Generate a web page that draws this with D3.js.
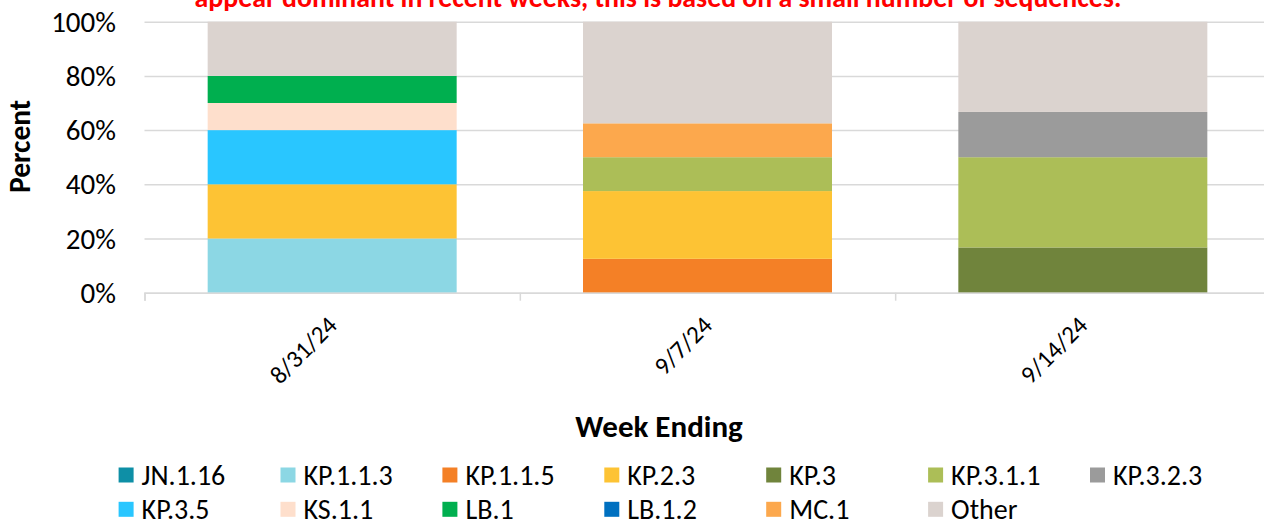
<!DOCTYPE html>
<html>
<head>
<meta charset="utf-8">
<script src="https://cdn.jsdelivr.net/npm/d3@7"></script>
<style>
  html, body { margin: 0; padding: 0; background: #ffffff; }
  svg { display: block; }
  text { font-family: Calibri, Carlito, "Open Sans", "DejaVu Sans", sans-serif; fill: #000; }
</style>
</head>
<body>
<svg id="chart" width="1264" height="522"></svg>
<script>
// Weeks shown on the x axis
const weeks = ["8/31/24", "9/7/24", "9/14/24"];

// Lineage names in stacking order (bottom to top) and their fill colours
const lineages = ["JN.1.16", "KP.1.1.3", "KP.1.1.5", "KP.2.3", "KP.3", "KP.3.1.1", "KP.3.2.3",
                  "KP.3.5", "KS.1.1", "LB.1", "LB.1.2", "MC.1", "Other"];
const lineageColors = ["#0E8FA6", "#8CD7E4", "#F48026", "#FDC334", "#70843C", "#ACBE57", "#9B9B9B",
                       "#29C6FF", "#FEDFCC", "#00AF4F", "#0070C0", "#FCA84D", "#DBD3CF"];

// Percent of sequences per lineage, one value per week
const jn_1_16  = [0, 0, 0];
const kp_1_1_3 = [20, 0, 0];
const kp_1_1_5 = [0, 12.5, 0];
const kp_2_3   = [20, 25, 0];
const kp_3     = [0, 0, 16.7];
const kp_3_1_1 = [0, 12.5, 33.3];
const kp_3_2_3 = [0, 0, 16.7];
const kp_3_5   = [20, 0, 0];
const ks_1_1   = [10, 0, 0];
const lb_1     = [10, 0, 0];
const lb_1_2   = [0, 0, 0];
const mc_1     = [0, 12.5, 0];
const other    = [20, 37.5, 33.3];

// Y axis tick values
const yTicks = [0, 20, 40, 60, 80, 100];

const seriesValues = [jn_1_16, kp_1_1_3, kp_1_1_5, kp_2_3, kp_3, kp_3_1_1, kp_3_2_3,
                      kp_3_5, ks_1_1, lb_1, lb_1_2, mc_1, other];

// Table for d3.stack: one row per week
const table = weeks.map((w, i) => {
  const row = { week: w };
  lineages.forEach((name, j) => { row[name] = seriesValues[j][i]; });
  return row;
});

const svg = d3.select("#chart");
const plot = { left: 144.5, right: 1270.5, top: 21.7, bottom: 292.7 };

const x = d3.scaleBand()
  .domain(weeks)
  .range([plot.left, plot.right])
  .paddingInner(0.3366)
  .paddingOuter(0.1683);

const xEdges = d3.scaleLinear().domain([0, weeks.length]).range([plot.left, plot.right]);

const y = d3.scaleLinear().domain([0, 100]).range([plot.bottom, plot.top]);

const color = d3.scaleOrdinal().domain(lineages).range(lineageColors);

// Horizontal gridlines
const grid = svg.append("g")
  .attr("transform", `translate(${plot.left},0)`)
  .call(d3.axisLeft(y).tickValues(yTicks).tickSize(-(plot.right - plot.left)).tickFormat(""));
grid.select(".domain").remove();
grid.selectAll(".tick line").attr("stroke", "#D9D9D9").attr("stroke-width", 1.5);

// Y tick labels
svg.append("g").selectAll("text")
  .data(yTicks)
  .join("text")
  .attr("x", 116)
  .attr("y", d => y(d))
  .attr("dy", "0.35em")
  .attr("text-anchor", "end")
  .style("font-size", "29px")
  .text(d => d + "%");

// Stacked bars
const stacked = d3.stack().keys(lineages)(table);
svg.append("g").selectAll("g")
  .data(stacked)
  .join("g")
  .attr("fill", d => color(d.key))
  .selectAll("rect")
  .data(d => d)
  .join("rect")
  .attr("x", d => x(d.data.week))
  .attr("width", x.bandwidth())
  .attr("y", d => y(d[1]))
  .attr("height", d => y(d[0]) - y(d[1]));

// Category axis with tick marks between weeks
const xAxis = svg.append("g")
  .attr("transform", `translate(0,${plot.bottom})`)
  .call(d3.axisBottom(xEdges).tickValues(d3.range(weeks.length + 1)).tickSize(8).tickFormat(""));
xAxis.select(".domain").attr("stroke", "#D9D9D9").attr("stroke-width", 1.5);
xAxis.selectAll(".tick line").attr("stroke", "#D9D9D9").attr("stroke-width", 1.5);

// Rotated week labels
svg.append("g").selectAll("text")
  .data(weeks)
  .join("text")
  .attr("transform", d => `translate(${x(d) + x.bandwidth() / 2},${plot.bottom + 28}) rotate(-45)`)
  .attr("text-anchor", "end")
  .attr("dy", "0.35em")
  .style("font-size", "25px")
  .text(d => d);

// Axis titles
svg.append("text")
  .attr("transform", "translate(30,146.5) rotate(-90)")
  .attr("text-anchor", "middle")
  .style("font-size", "29.5px")
  .style("font-weight", "bold")
  .text("Percent");

svg.append("text")
  .attr("x", 659)
  .attr("y", 437)
  .attr("text-anchor", "middle")
  .style("font-size", "31px")
  .style("font-weight", "bold")
  .text("Week Ending");

// Note line above the chart
svg.append("text")
  .attr("x", 658)
  .attr("y", 7)
  .attr("text-anchor", "middle")
  .style("font-size", "27.8px")
  .style("font-weight", "bold")
  .style("fill", "#FF0000")
  .text("appear dominant in recent weeks, this is based on a small number of sequences.");

// Legend: two rows of seven columns
const legendCols = 7;
const legend = svg.append("g").selectAll("g")
  .data(lineages)
  .join("g")
  .attr("transform", (d, i) => `translate(${118.6 + (i % legendCols) * 161.9},${475 + Math.floor(i / legendCols) * 34.3})`);
legend.append("rect")
  .attr("x", 0).attr("y", -7.5)
  .attr("width", 15).attr("height", 15)
  .attr("fill", d => color(d));
legend.append("text")
  .attr("x", 23)
  .attr("dy", "0.35em")
  .style("font-size", "28px")
  .text(d => d);
</script>
</body>
</html>
